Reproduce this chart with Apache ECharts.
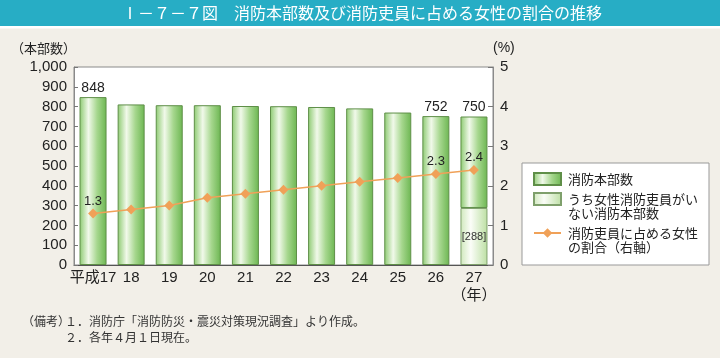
<!DOCTYPE html>
<html><head><meta charset="utf-8">
<script src="https://cdn.jsdelivr.net/npm/echarts@6/dist/echarts.min.js"></script>
<style>html,body{margin:0;padding:0;background:#f2efe8}#c{width:720px;height:358px}</style>
</head><body><div id="c"></div>
<script>
// ---- data ----
const categories = ['平成17','18','19','20','21','22','23','24','25','26','27\n（年）'];
const totalHQ = [848, 811, 807, 807, 803, 802, 798, 791, 770, 752, 750];
const noFemaleHQ = [null, null, null, null, null, null, null, null, null, null, 288];
const femaleRatio = [1.3, 1.4, 1.5, 1.7, 1.8, 1.9, 2.0, 2.1, 2.2, 2.3, 2.4];
const barLabelIdx = [0, 9, 10];
const lineLabelIdx = [0, 9, 10];
const seriesNames = ['消防本部数', 'うち女性消防吏員がいない消防本部数', '消防吏員に占める女性の割合（右軸）'];
const legendLabels = ['消防本部数', '\nうち女性消防吏員がい\nない消防本部数', '\n消防吏員に占める女性\nの割合（右軸）'];
const titleText = 'Ⅰ－７－７図　消防本部数及び消防吏員に占める女性の割合の推移';
const noteHead = '（備考）';
const noteLines = ['１．消防庁「消防防災・震災対策現況調査」より作成。', '２．各年４月１日現在。'];

const NUM_FONT = "'Liberation Sans', 'Noto Sans CJK JP', sans-serif";
const JP_FONT = "'Noto Sans CJK JP', sans-serif";

const darkGrad = new echarts.graphic.LinearGradient(0, 0, 1, 0, [
  {offset: 0, color: '#8cca70'}, {offset: 0.33, color: '#f1f9ea'},
  {offset: 0.65, color: '#a6d78e'}, {offset: 1, color: '#6cb651'}]);
const lightGrad = new echarts.graphic.LinearGradient(0, 0, 1, 0, [
  {offset: 0, color: '#cfe8bb'}, {offset: 0.38, color: '#fbfdf8'},
  {offset: 1, color: '#bcdfa3'}]);

const darkData = totalHQ.map((v, i) => ({
  value: v - (noFemaleHQ[i] || 0),
  label: {show: barLabelIdx.includes(i)}
}));
const lineData = femaleRatio.map((v, i) => ({
  value: v,
  label: {show: lineLabelIdx.includes(i)}
}));

const chart = echarts.init(document.getElementById('c'), null, {renderer: 'canvas'});
chart.setOption({
  backgroundColor: '#f2efe8',
  animation: false,
  grid: {left: 74, right: 227, top: 67, bottom: 93, show: true, backgroundColor: '#ffffff', borderColor: '#8a8a8a', borderWidth: 1},
  xAxis: {
    type: 'category', data: categories,
    axisLine: {lineStyle: {color: '#555', width: 1}},
    axisTick: {inside: true, length: 6, lineStyle: {color: '#666'}},
    axisLabel: {color: '#222', fontSize: 15, fontFamily: NUM_FONT, margin: 4, lineHeight: 18, interval: 0}
  },
  yAxis: [{
    type: 'value', min: 0, max: 1000, interval: 100,
    name: '（本部数）', nameLocation: 'end', nameGap: 12,
    nameTextStyle: {color: '#222', fontSize: 13, fontFamily: JP_FONT, align: 'right', padding: [0, -2, 0, 0]},
    axisLine: {show: true, lineStyle: {color: '#8a8a8a'}},
    axisTick: {show: true, inside: true, length: 4, lineStyle: {color: '#777'}},
    splitLine: {show: false},
    axisLabel: {color: '#222', fontSize: 15, fontFamily: NUM_FONT, margin: 7,
      formatter: v => v.toLocaleString('en-US')}
  }, {
    type: 'value', min: 0, max: 5, interval: 1,
    name: '(%)', nameLocation: 'end', nameGap: 12,
    nameTextStyle: {color: '#222', fontSize: 14, fontFamily: NUM_FONT, align: 'left', padding: [0, 0, 0, 0]},
    axisLine: {show: true, lineStyle: {color: '#8a8a8a'}},
    axisTick: {show: true, inside: true, length: 5, lineStyle: {color: '#777'}},
    splitLine: {show: false},
    axisLabel: {color: '#222', fontSize: 15, fontFamily: NUM_FONT, margin: 7}
  }],
  legend: {
    orient: 'vertical', left: 522, top: 163,
    padding: [9, 11, 11, 11], itemGap: -8, itemWidth: 27, itemHeight: 12,
    selectedMode: false, backgroundColor: '#ffffff', borderColor: '#999', borderWidth: 1,
    textStyle: {color: '#222', fontSize: 13, lineHeight: 14, fontFamily: JP_FONT, padding: [0, 0, 0, 2]},
    data: [
      {name: seriesNames[0], icon: 'rect'},
      {name: seriesNames[1], icon: 'rect'},
      {name: seriesNames[2]}
    ],
    formatter: name => legendLabels[seriesNames.indexOf(name)]
  },
  series: [{
    name: seriesNames[1], type: 'bar', stack: 'hq', barWidth: 27,
    data: noFemaleHQ,
    itemStyle: {color: lightGrad, borderColor: '#7fa06c', borderWidth: 1},
    label: {show: true, position: 'inside', formatter: '[{c}]', color: '#333', fontSize: 11, fontFamily: NUM_FONT}
  }, {
    name: seriesNames[0], type: 'bar', stack: 'hq', barWidth: 27,
    data: darkData,
    itemStyle: {color: darkGrad, borderColor: '#5f8f48', borderWidth: 1},
    label: {position: 'top', distance: 2, color: '#222', fontSize: 14, fontFamily: NUM_FONT,
      formatter: p => String(totalHQ[p.dataIndex])}
  }, {
    name: seriesNames[2], type: 'line', yAxisIndex: 1,
    data: lineData, symbol: 'diamond', symbolSize: 10,
    lineStyle: {color: '#f0a158', width: 1.5},
    itemStyle: {color: '#f0a158'},
    label: {position: 'top', distance: 1, color: '#222', fontSize: 13, fontFamily: NUM_FONT}
  }],
  graphic: [
    {type: 'rect', left: 0, top: 0, shape: {width: 720, height: 26}, style: {fill: '#27adc5'}, silent: true},
    {type: 'rect', left: 0, top: 26, shape: {width: 720, height: 2.5}, style: {fill: '#ffffff'}, silent: true},
    {type: 'text', x: 362, y: 13, style: {text: titleText, fill: '#ffffff', font: "16px 'Noto Sans CJK JP'", textAlign: 'center', textVerticalAlign: 'middle'}},
    {type: 'text', x: 22, y: 321, style: {text: noteHead, fill: '#333', font: "12px 'Noto Sans CJK JP'", textVerticalAlign: 'middle'}},
    {type: 'text', x: 65, y: 321, style: {text: noteLines[0], fill: '#333', font: "12px 'Noto Sans CJK JP'", textVerticalAlign: 'middle'}},
    {type: 'text', x: 65, y: 337, style: {text: noteLines[1], fill: '#333', font: "12px 'Noto Sans CJK JP'", textVerticalAlign: 'middle'}}
  ]
});
</script></body></html>
